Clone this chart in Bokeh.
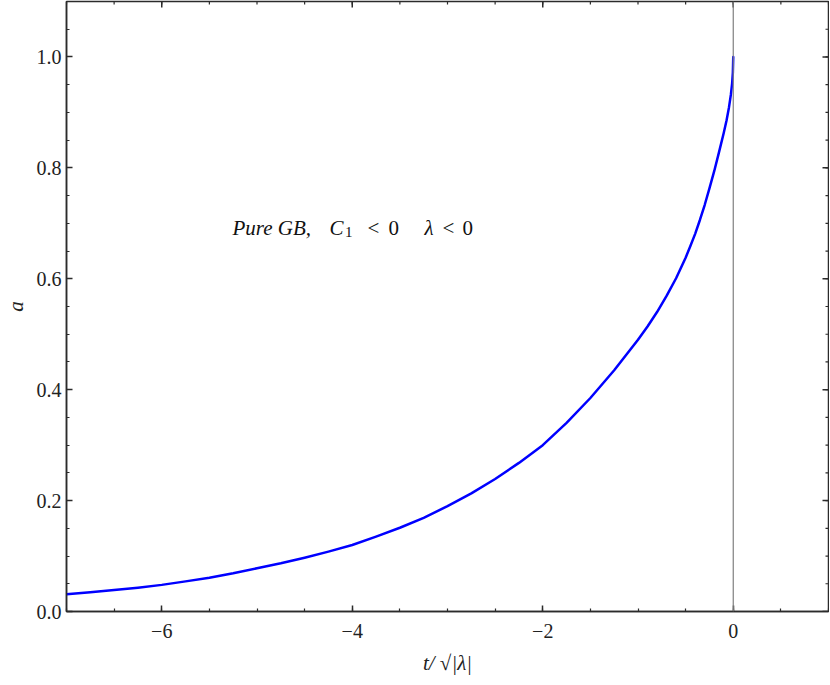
from bokeh.plotting import figure
from bokeh.models import LinearAxis, FixedTicker, Span, Label, ColumnDataSource
from bokeh.embed import file_html
from bokeh.resources import INLINE
import numpy as np

# ---- data ----
t_vals = [-7.0, -6.75, -6.5, -6.25, -6.0, -5.75, -5.5, -5.25, -5.0, -4.75, -4.5,
          -4.25, -4.0, -3.75, -3.5, -3.25, -3.0, -2.75, -2.5, -2.25, -2.0, -1.75,
          -1.5, -1.25, -1.0, -0.9, -0.8, -0.7, -0.6, -0.5, -0.45, -0.4, -0.35,
          -0.3, -0.25, -0.2, -0.15, -0.1, -0.07, -0.045, -0.025, -0.012, -0.004, 0.0]
a_vals = [0.031, 0.0346, 0.0386, 0.043, 0.048, 0.0543, 0.061, 0.069, 0.078, 0.087,
          0.097, 0.108, 0.120, 0.135, 0.151, 0.169, 0.190, 0.213, 0.239, 0.268,
          0.300, 0.340, 0.385, 0.435, 0.490, 0.514, 0.540, 0.569, 0.601, 0.638,
          0.659, 0.681, 0.706, 0.733, 0.763, 0.794, 0.828, 0.863, 0.886, 0.909,
          0.932, 0.952, 0.972, 1.000]

x_major = [-6, -4, -2, 0]
x_labels = ["\u22126", "\u22124", "\u22122", "0"]
y_major = [0.0, 0.2, 0.4, 0.6, 0.8, 1.0]
y_labels = ["0.0", "0.2", "0.4", "0.6", "0.8", "1.0"]

x_label_text = "t/ \u221a|\u03bb|"
y_label_text = "a"

FONT = "Liberation Serif"
AX_COLOR = "#2b2b2b"

X0, X1 = -7, 1
Y0, Y1 = 0, 1.1
FW, FH = 762, 610

p = figure(x_range=(X0, X1), y_range=(Y0, Y1),
           frame_width=FW, frame_height=FH,
           min_border_left=61, min_border_right=1, min_border_top=1, min_border_bottom=60,
           x_axis_type=None, y_axis_type=None,
           output_backend="svg", toolbar_location=None)
p.xgrid.visible = False
p.ygrid.visible = False
p.outline_line_color = AX_COLOR
p.outline_line_width = 1.5
p.background_fill_color = "white"
p.border_fill_color = "white"

x_minor = list(np.arange(-7, 1.001, 0.5))
y_minor = list(np.round(np.arange(0, 1.1001, 0.05), 4))

MAJ_IN, MIN_IN = 6, 3


def style(ax, ticker, labels):
    ax.ticker = ticker
    ax.axis_line_color = AX_COLOR
    ax.axis_line_width = 1.5
    ax.major_tick_line_color = AX_COLOR
    ax.minor_tick_line_color = AX_COLOR
    ax.major_tick_line_width = 1.5
    ax.minor_tick_line_width = 1.2
    ax.major_tick_in = MAJ_IN
    ax.major_tick_out = 0
    ax.minor_tick_in = MIN_IN
    ax.minor_tick_out = 0
    ax.major_label_text_font = FONT
    ax.major_label_text_color = "#222222"
    ax.major_label_text_font_size = "20px"
    ax.major_label_overrides = labels
    return ax


xt = FixedTicker(ticks=x_major, minor_ticks=x_minor)
yt = FixedTicker(ticks=y_major, minor_ticks=y_minor)

xb = style(LinearAxis(), xt, {v: l for v, l in zip(x_major, x_labels)})
xb.major_label_standoff = 12
xb.axis_label = x_label_text
xb.axis_label_text_font = FONT
xb.axis_label_text_font_style = "italic"
xb.axis_label_text_font_size = "21px"
xb.axis_label_text_color = "#222222"
xb.axis_label_standoff = 10
p.add_layout(xb, "below")

yl = style(LinearAxis(), yt, {v: l for v, l in zip(y_major, y_labels)})
yl.major_label_standoff = 5
yl.axis_label = y_label_text
yl.axis_label_text_font = FONT
yl.axis_label_text_font_style = "italic"
yl.axis_label_text_font_size = "21px"
yl.axis_label_text_color = "#222222"
yl.axis_label_standoff = 6
p.add_layout(yl, "left")

# mirrored inward ticks on the top and right frame edges (no labels)
dy_per_px = (Y1 - Y0) / FH
dx_per_px = (X1 - X0) / FW
for ticks, ln, w in [(x_major, MAJ_IN, 1.5), (x_minor, MIN_IN, 1.2)]:
    p.segment(x0=ticks, x1=ticks, y0=[Y1] * len(ticks),
              y1=[Y1 - ln * dy_per_px] * len(ticks),
              line_color=AX_COLOR, line_width=w)
for ticks, ln, w in [(y_major, MAJ_IN, 1.5), (y_minor, MIN_IN, 1.2)]:
    p.segment(x0=[X1] * len(ticks), x1=[X1 - ln * dx_per_px] * len(ticks),
              y0=ticks, y1=ticks, line_color=AX_COLOR, line_width=w)

p.add_layout(Span(location=0, dimension="height", line_color="#7f7f7f", line_width=1.2))

src = ColumnDataSource(dict(t=t_vals, a=a_vals))
p.line("t", "a", source=src, line_color="#0000ff", line_width=2.5,
       line_join="round", line_cap="round")

# annotation pieces
ann_y = 0.692
pieces = [
    (-5.257, ann_y, "Pure GB,", "italic", "21px"),
    (-4.239, ann_y, "C", "italic", "21px"),
    (-4.075, ann_y - 0.008, "1", "normal", "15px"),
    (-3.840, ann_y, "<", "normal", "21px"),
    (-3.620, ann_y, "0", "normal", "21px"),
    (-3.241, ann_y, "\u03bb", "italic", "21px"),
    (-3.052, ann_y, "<", "normal", "21px"),
    (-2.843, ann_y, "0", "normal", "21px"),
]
for x, y, txt, st, sz in pieces:
    p.add_layout(Label(x=x, y=y, text=txt, text_font=FONT, text_font_style=st,
                       text_font_size=sz, text_color="#111111",
                       text_baseline="alphabetic", text_align="left"))

open("out.html", "w").write(file_html(p, INLINE))
